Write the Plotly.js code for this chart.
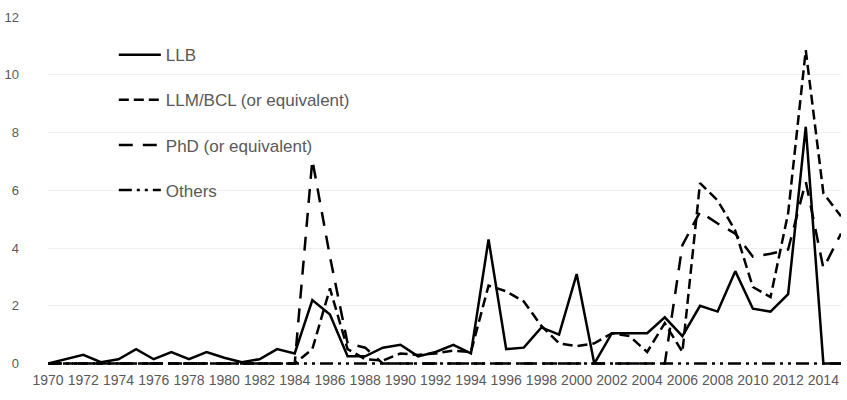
<!DOCTYPE html>
<html>
<head>
<meta charset="utf-8">
<script src="https://cdn.plot.ly/plotly-3.0.1.min.js"></script>
<style>html,body{margin:0;padding:0;background:#fff;}#chart{width:847px;height:400px;}</style>
</head>
<body>
<div id="chart"></div>
<script>
const years = [1970,1971,1972,1973,1974,1975,1976,1977,1978,1979,1980,1981,1982,1983,1984,1985,1986,1987,1988,1989,1990,1991,1992,1993,1994,1995,1996,1997,1998,1999,2000,2001,2002,2003,2004,2005,2006,2007,2008,2009,2010,2011,2012,2013,2014,2015];
const tickYears = [1970,1972,1974,1976,1978,1980,1982,1984,1986,1988,1990,1992,1994,1996,1998,2000,2002,2004,2006,2008,2010,2012,2014];
const yTicks = [0,2,4,6,8,10,12];
const seriesNames = ["LLB","LLM/BCL (or equivalent)","PhD (or equivalent)","Others"];
const llb = [0,0.15,0.3,0.05,0.15,0.5,0.15,0.4,0.15,0.4, 0.2,0.05,0.15,0.5,0.35,2.2,1.7,0.25,0.25,0.55, 0.65,0.25,0.4,0.65,0.35,4.3,0.5,0.55,1.25,1.0, 3.1,0,1.05,1.05,1.05,1.6,0.95,2.0,1.8,3.2, 1.9,1.8,2.4,8.2,0,0];
const llm = [0,0,0,0,0,0,0,0,0,0, 0,0,0,0,0,0.5,2.6,0.5,0.15,0.1, 0.35,0.3,0.35,0.45,0.4,2.7,2.5,2.15,1.3,0.7, 0.6,0.7,1.05,0.95,0.4,1.4,0.4,6.25,5.65,4.6, 2.65,2.3,5.2,10.85,5.9,5.1];
const phd = [0,0,0,0,0,0,0,0,0,0, 0,0,0,0,0,7.05,3.7,0.7,0.55,0, 0,0,0,0,0,0,0,0,0,0, 0,0,0,0,0,0,4.1,5.25,4.85,4.5, 3.7,3.8,3.95,6.3,3.3,4.5];
const others = [0,0,0,0,0,0,0,0,0,0, 0,0,0,0,0,0,0,0,0,0, 0,0,0,0,0,0,0,0,0,0, 0,0,0,0,0,0,0,0,0,0, 0,0,0,0,0,0];

const dashes = ["solid","10px,5px","14px,10px","13px,5px,3px,5px,3px,5px"];
const values = [llb,llm,phd,others];
const traces = values.map((v,i)=>({
  x: years, y: v, type:"scatter", mode:"lines", name: seriesNames[i],
  legendgroup: "g"+i,
  line:{color:"#000000", width:2.5, dash:dashes[i]},
  hoverinfo:"skip"
}));

const layout = {
  width:847, height:400,
  margin:{l:48, r:6, t:17, b:35},
  paper_bgcolor:"#ffffff", plot_bgcolor:"#ffffff",
  font:{family:"Liberation Sans, Arial, sans-serif", color:"#595959"},
  showlegend:true,
  legend:{x:0.083, y:0.942, xanchor:"left", yanchor:"top", traceorder:"grouped", tracegroupgap:20,
          font:{size:17, color:"#595959"}, bgcolor:"rgba(0,0,0,0)", itemwidth:42},
  xaxis:{type:"linear", range:[1970,2015], tickmode:"array", tickvals:tickYears, ticktext:tickYears.map(String),
         showgrid:false, zeroline:false, showline:false, ticks:"", ticklabelstandoff:5,
         tickfont:{size:14, color:"#595959"}},
  yaxis:{range:[-0.05,12], tickmode:"array", tickvals:yTicks, ticktext:yTicks.map(String),
         showgrid:true, gridcolor:"#f0f0f0", gridwidth:1, zeroline:false, showline:false, ticks:"",
         ticklabelstandoff:28, tickfont:{size:13, color:"#595959"}}
};
Plotly.newPlot("chart", traces, layout, {staticPlot:true, displayModeBar:false});
</script>
</body>
</html>
